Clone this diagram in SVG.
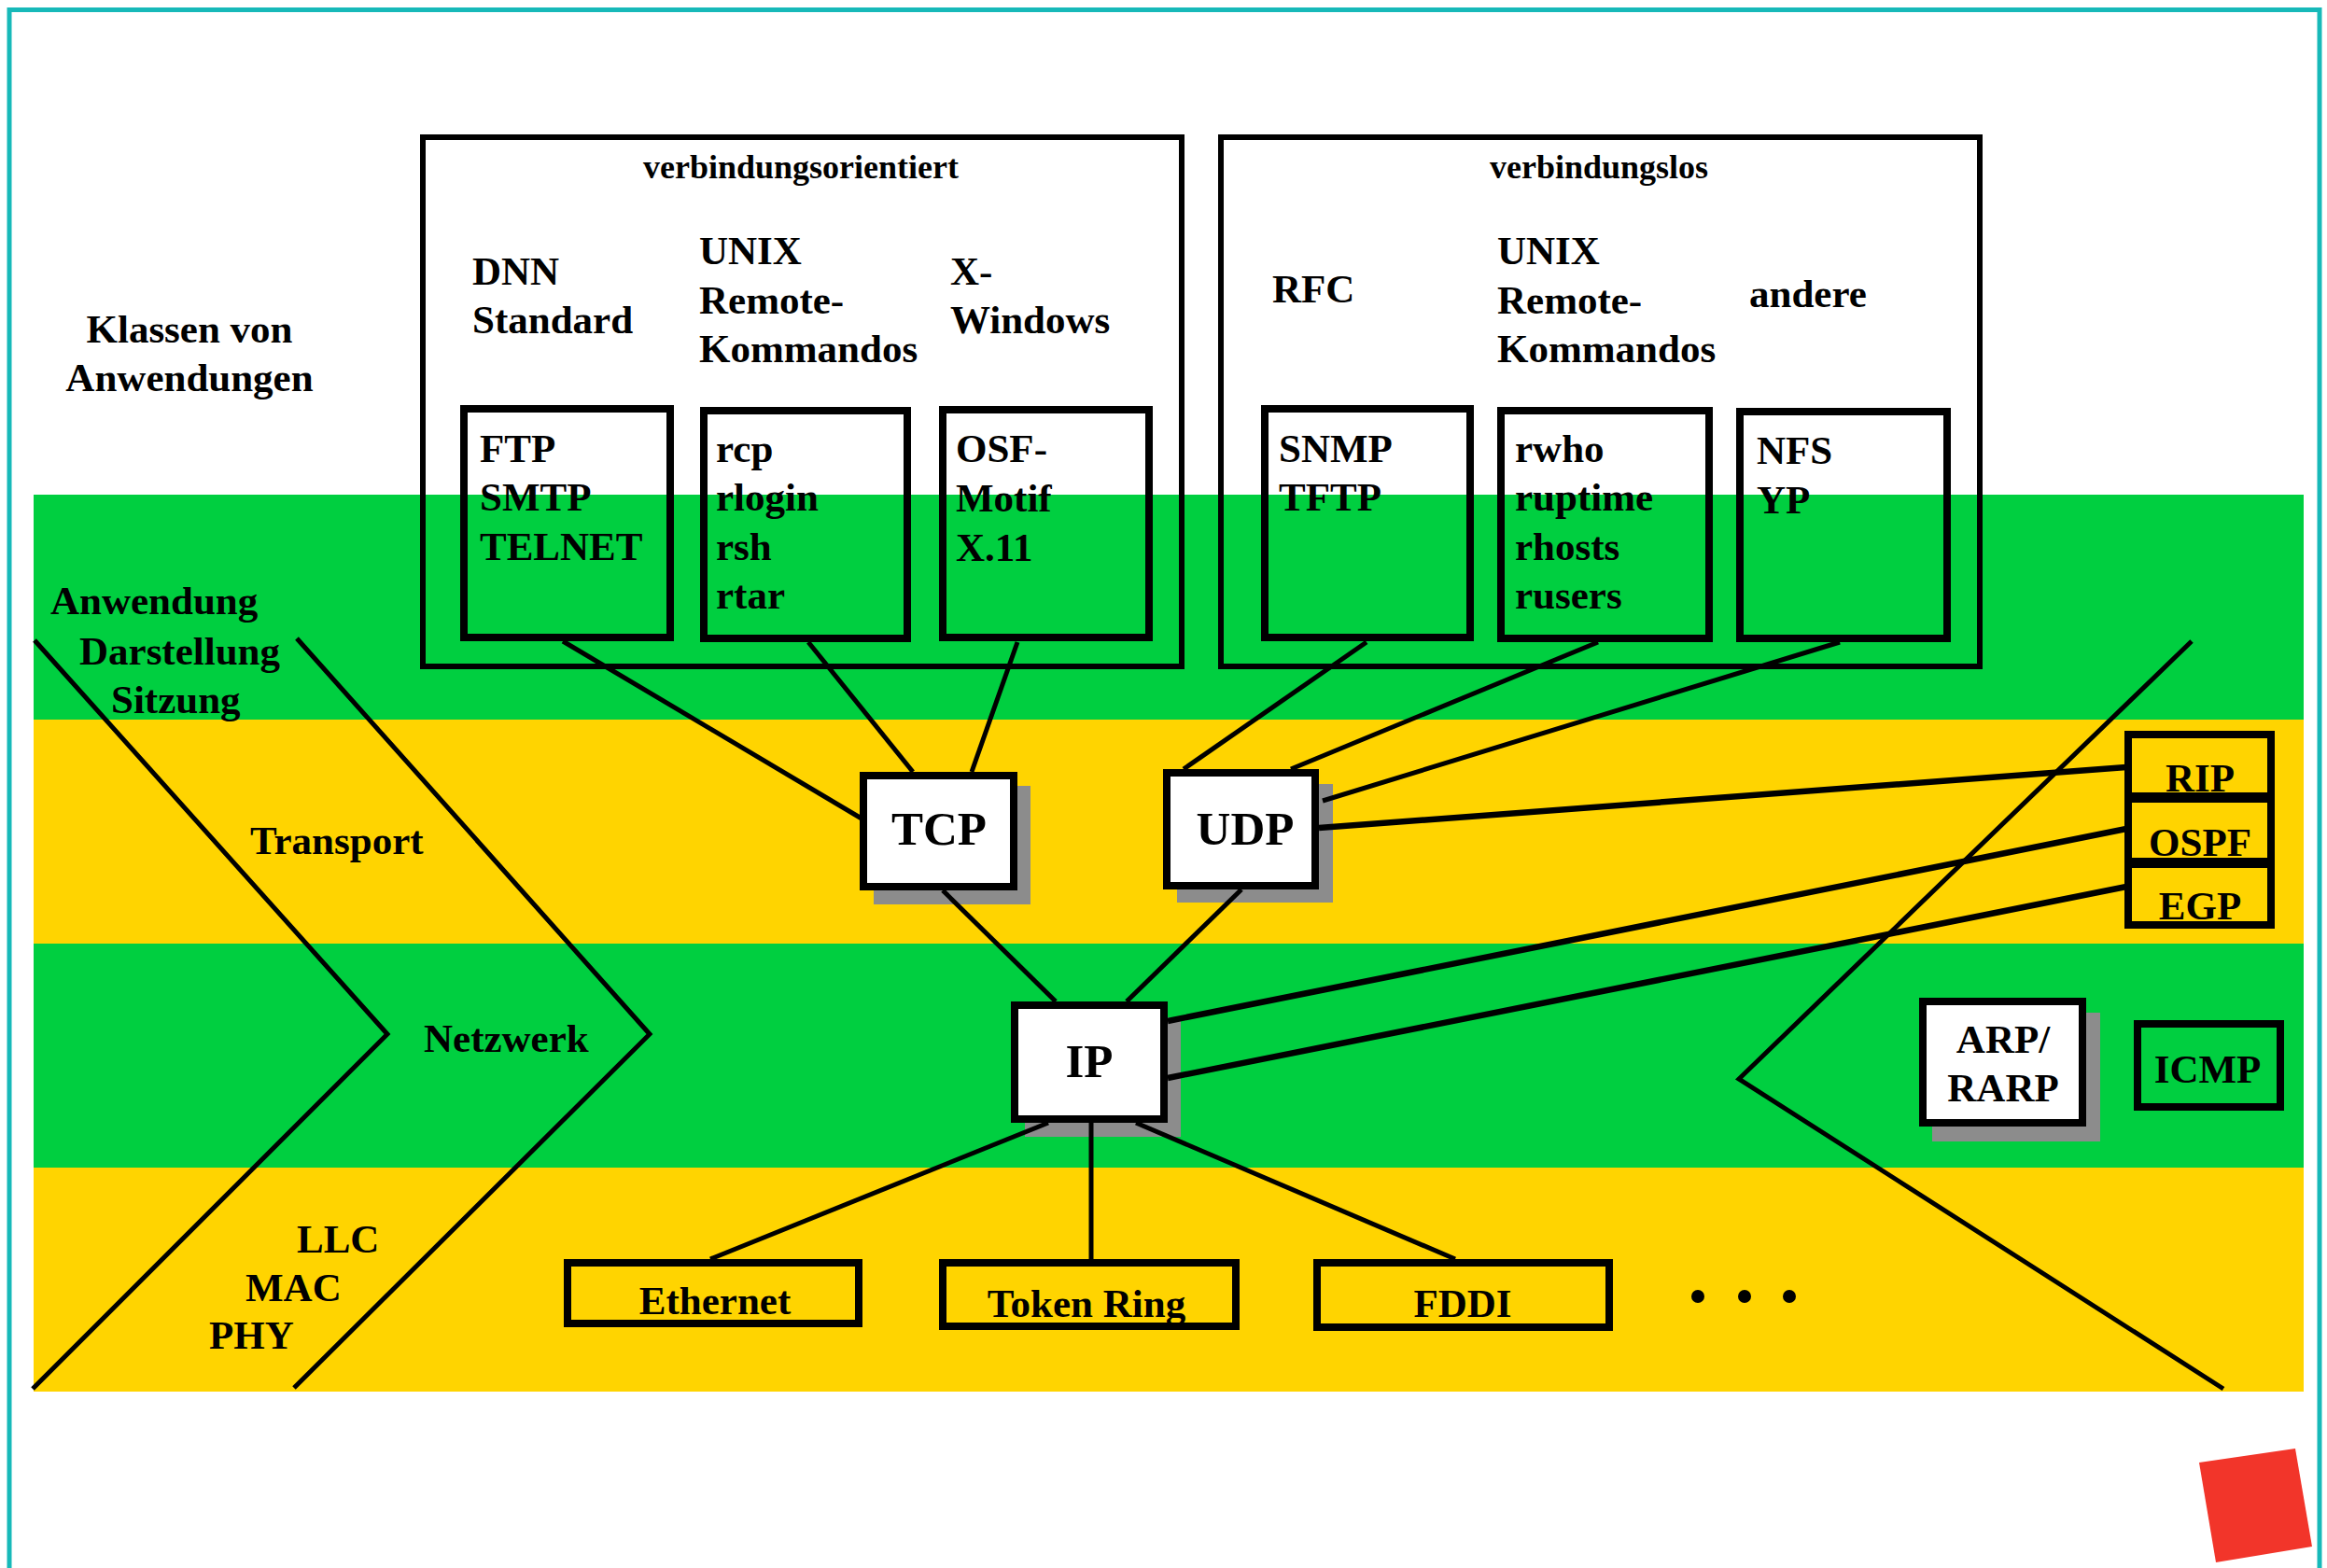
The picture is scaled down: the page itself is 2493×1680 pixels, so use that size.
<svg xmlns="http://www.w3.org/2000/svg" width="2493" height="1680" viewBox="0 0 2493 1680">
<style>
  text { font-family: "Liberation Serif", "Times New Roman", serif; font-weight: bold; fill: #000; }
  .t { font-size: 43px; }
  .s { font-size: 36px; text-anchor: middle; }
  .big { font-size: 51px; text-anchor: middle; }
  .c { text-anchor: middle; }
  .box { fill: none; stroke: #000; stroke-width: 8; }
  .wbox { fill: #fff; stroke: #000; stroke-width: 8; }
  .frame { fill: none; stroke: #000; stroke-width: 6; }
  .shadow { fill: #8c8c8c; }
  .ln { fill: none; stroke: #000; stroke-width: 5; stroke-linecap: butt; }
  .lw { fill: none; stroke: #000; stroke-width: 6.5; }
</style>
<rect x="0" y="0" width="2493" height="1680" fill="#fff"/>
<path d="M10,1680 V10.5 H2485 V1680" fill="none" stroke="#17b9b9" stroke-width="5"/>

<g id="bands">
  <rect x="36" y="530" width="2432" height="242" fill="#00cf40"/>
  <rect x="36" y="771" width="2432" height="241" fill="#ffd400"/>
  <rect x="36" y="1011" width="2432" height="241" fill="#00cf40"/>
  <rect x="36" y="1251" width="2432" height="240" fill="#ffd400"/>
</g>

<g id="chevrons">
  <polyline class="ln" points="37,686 415,1108 35,1488"/>
  <polyline class="ln" points="318,684 696,1108 315,1487"/>
  <polyline class="ln" points="2348,687 1863,1156 2382,1488"/>
</g>

<g id="layer-labels">
  <text class="t" x="54" y="658">Anwendung</text>
  <text class="t" x="85" y="712">Darstellung</text>
  <text class="t" x="119" y="764">Sitzung</text>
  <text class="t" x="268" y="915">Transport</text>
  <text class="t" x="454" y="1127">Netzwerk</text>
  <text class="t" x="318" y="1342">LLC</text>
  <text class="t" x="263" y="1394">MAC</text>
  <text class="t" x="224" y="1445">PHY</text>
</g>

<g id="klassen">
  <text class="t c" x="203" y="367">Klassen von</text>
  <text class="t c" x="203" y="419">Anwendungen</text>
</g>

<g id="verbindungsorientiert">
  <rect class="frame" x="453" y="147" width="813" height="567"/>
  <text class="s" x="858" y="191">verbindungsorientiert</text>
  <text class="t" x="506" y="305">DNN</text>
  <text class="t" x="506" y="357">Standard</text>
  <text class="t" x="749" y="283">UNIX</text>
  <text class="t" x="749" y="336">Remote-</text>
  <text class="t" x="749" y="388">Kommandos</text>
  <text class="t" x="1018" y="305">X-</text>
  <text class="t" x="1018" y="357">Windows</text>
</g>
<g id="ftp">
  <rect class="box" x="497" y="438" width="221" height="245"/>
  <text class="t" x="514" y="495">FTP</text>
  <text class="t" x="514" y="547">SMTP</text>
  <text class="t" x="514" y="600">TELNET</text>
</g>
<g id="rcp">
  <rect class="box" x="754" y="440" width="218" height="244"/>
  <text class="t" x="767" y="495">rcp</text>
  <text class="t" x="767" y="547">rlogin</text>
  <text class="t" x="767" y="600">rsh</text>
  <text class="t" x="767" y="652">rtar</text>
</g>
<g id="osf">
  <rect class="box" x="1010" y="439" width="221" height="244"/>
  <text class="t" x="1024" y="495">OSF-</text>
  <text class="t" x="1024" y="548">Motif</text>
  <text class="t" x="1024" y="601">X.11</text>
</g>

<g id="verbindungslos">
  <rect class="frame" x="1308" y="147" width="813" height="567"/>
  <text class="s" x="1713" y="191">verbindungslos</text>
  <text class="t" x="1363" y="324">RFC</text>
  <text class="t" x="1604" y="283">UNIX</text>
  <text class="t" x="1604" y="336">Remote-</text>
  <text class="t" x="1604" y="388">Kommandos</text>
  <text class="t" x="1874" y="329">andere</text>
</g>
<g id="snmp">
  <rect class="box" x="1355" y="438" width="220" height="245"/>
  <text class="t" x="1370" y="495">SNMP</text>
  <text class="t" x="1370" y="547">TFTP</text>
</g>
<g id="rwho">
  <rect class="box" x="1608" y="440" width="223" height="244"/>
  <text class="t" x="1623" y="495">rwho</text>
  <text class="t" x="1623" y="547">ruptime</text>
  <text class="t" x="1623" y="600">rhosts</text>
  <text class="t" x="1623" y="652">rusers</text>
</g>
<g id="nfs">
  <rect class="box" x="1864" y="441" width="222" height="243"/>
  <text class="t" x="1882" y="497">NFS</text>
  <text class="t" x="1882" y="550">YP</text>
</g>

<g id="tcp">
  <rect class="shadow" x="936" y="842" width="168" height="127"/>
  <rect class="wbox" x="925" y="831" width="161" height="119"/>
  <text class="big" x="1006" y="905">TCP</text>
</g>
<g id="udp">
  <rect class="shadow" x="1261" y="840" width="167" height="127"/>
  <rect class="wbox" x="1250" y="828" width="159" height="121"/>
  <text class="big" x="1334" y="905">UDP</text>
</g>
<g id="ip">
  <rect class="shadow" x="1098" y="1090" width="167" height="128"/>
  <rect class="wbox" x="1087" y="1077" width="160" height="122"/>
  <text class="big" x="1167" y="1154">IP</text>
</g>

<g id="rip">
  <rect class="box" x="2280" y="787" width="153" height="66"/>
  <text class="t c" x="2357" y="848">RIP</text>
</g>
<g id="ospf">
  <rect class="box" x="2280" y="856" width="153" height="67"/>
  <text class="t c" x="2357" y="917">OSPF</text>
</g>
<g id="egp">
  <rect class="box" x="2280" y="926" width="153" height="65"/>
  <text class="t c" x="2357" y="985">EGP</text>
</g>

<g id="arp">
  <rect class="shadow" x="2070" y="1085" width="180" height="138"/>
  <rect class="wbox" x="2060" y="1073" width="171" height="130"/>
  <text class="t c" x="2146" y="1128">ARP/</text>
  <text class="t c" x="2146" y="1180">RARP</text>
</g>
<g id="icmp">
  <rect class="box" x="2290" y="1097" width="153" height="89"/>
  <text class="t c" x="2365" y="1160">ICMP</text>
</g>

<g id="ethernet">
  <rect class="box" x="608" y="1353" width="312" height="65"/>
  <text class="t c" x="766" y="1408">Ethernet</text>
</g>
<g id="tokenring">
  <rect class="box" x="1010" y="1353" width="314" height="68"/>
  <text class="t c" x="1164" y="1411">Token Ring</text>
</g>
<g id="fddi">
  <rect class="box" x="1411" y="1353" width="313" height="69"/>
  <text class="t c" x="1567" y="1411">FDDI</text>
</g>
<g id="dots">
  <circle cx="1819" cy="1389" r="7"/>
  <circle cx="1869" cy="1389" r="7"/>
  <circle cx="1917" cy="1389" r="7"/>
</g>

<g id="connectors">
  <line class="ln" x1="603" y1="687" x2="923" y2="877"/>
  <line class="ln" x1="866" y1="688" x2="978" y2="827"/>
  <line class="ln" x1="1090" y1="688" x2="1041" y2="827"/>
  <line class="ln" x1="1464" y1="688" x2="1268" y2="824"/>
  <line class="ln" x1="1712" y1="688" x2="1383" y2="824"/>
  <line class="ln" x1="1971" y1="688" x2="1417" y2="858"/>
  <line class="lw" x1="1413" y1="887" x2="2278" y2="822"/>
  <line class="lw" x1="1251" y1="1094" x2="2278" y2="888"/>
  <line class="lw" x1="1251" y1="1155" x2="2278" y2="950"/>
  <line class="ln" x1="1010" y1="954" x2="1131" y2="1073"/>
  <line class="ln" x1="1330" y1="953" x2="1207" y2="1073"/>
  <line class="ln" x1="1123" y1="1203" x2="761" y2="1349"/>
  <line class="ln" x1="1169" y1="1203" x2="1169" y2="1349"/>
  <line class="ln" x1="1217" y1="1203" x2="1559" y2="1349"/>
</g>

<polygon points="2356,1567 2459,1552 2477,1657 2374,1674" fill="#f2352a"/>
</svg>
